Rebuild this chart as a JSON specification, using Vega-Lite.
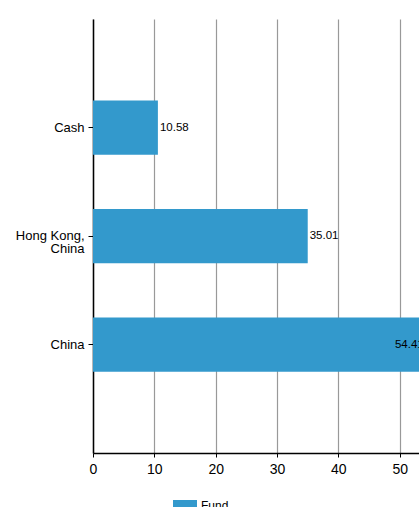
{
  "$schema": "https://vega.github.io/schema/vega-lite/v6.json",
  "autosize": {"type": "none"},
  "width": 368,
  "height": 434,
  "padding": {"left": 93, "top": 19, "right": 0, "bottom": 54},
  "config": {
    "font": "Liberation Sans",
    "view": {"stroke": null}
  },
  "data": {
    "values": [
      {"category": "Cash", "value": 10.58, "series": "Fund"},
      {"category": "Hong Kong, China", "value": 35.01, "series": "Fund"},
      {"category": "China", "value": 54.41, "series": "Fund"}
    ]
  },
  "encoding": {
    "y": {
      "field": "category",
      "type": "nominal",
      "sort": ["Cash", "Hong Kong, China", "China"],
      "scale": {"paddingInner": 0.5, "paddingOuter": 0.75},
      "axis": {
        "title": null,
        "domainColor": "#000",
        "domainWidth": 1.5,
        "tickColor": "#000",
        "tickSize": 5,
        "labelPadding": 4,
        "labelFontSize": 13,
        "labelColor": "#000",
        "labelLineHeight": 13,
        "labelExpr": "datum.label == 'Hong Kong, China' ? ['Hong Kong,', 'China'] : datum.label"
      }
    }
  },
  "layer": [
    {
      "mark": {"type": "bar", "color": "#3399cc"},
      "encoding": {
        "x": {
          "field": "value",
          "type": "quantitative",
          "scale": {"domain": [0, 60], "nice": false},
          "axis": {
            "title": null,
            "values": [0, 10, 20, 30, 40, 50, 60],
            "grid": true,
            "gridColor": "#999",
            "gridWidth": 1.2,
            "domainColor": "#000",
            "domainWidth": 1.5,
            "tickColor": "#000",
            "tickSize": 4,
            "labelFlush": false,
            "labelFontSize": 14,
            "labelColor": "#000",
            "labelPadding": 5
          }
        },
        "color": {
          "field": "series",
          "type": "nominal",
          "scale": {"range": ["#3399cc"]},
          "legend": {
            "title": null,
            "orient": "none",
            "legendX": 80,
            "legendY": 475,
            "symbolType": "M-1,-0.5H1V0.5H-1Z",
            "symbolSize": 576,
            "symbolStrokeWidth": 0,
            "labelFontSize": 12,
            "labelColor": "#000"
          }
        }
      }
    },
    {
      "transform": [{"filter": "datum.value < 50"}],
      "mark": {"type": "text", "align": "left", "dx": 2, "fontSize": 11.5, "color": "#000"},
      "encoding": {
        "x": {"field": "value", "type": "quantitative"},
        "text": {"field": "value", "type": "quantitative", "format": ".2f"}
      }
    },
    {
      "transform": [{"filter": "datum.value >= 50"}],
      "mark": {"type": "text", "align": "right", "dx": -3, "fontSize": 11.5, "color": "#000"},
      "encoding": {
        "x": {"field": "value", "type": "quantitative"},
        "text": {"field": "value", "type": "quantitative", "format": ".2f"}
      }
    }
  ]
}
